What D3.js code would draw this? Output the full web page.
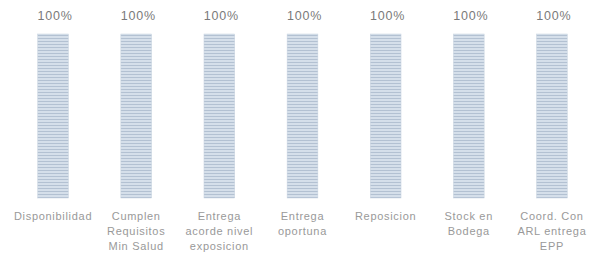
<!DOCTYPE html>
<html>
<head>
<meta charset="utf-8">
<script src="https://cdn.jsdelivr.net/npm/d3@7"></script>
<style>
  body { margin: 0; background: #fff; }
  text { font-family: "Liberation Sans", Arial, sans-serif; }
</style>
</head>
<body>
<div class="chart"></div>
<script>
// chart data
var categories = ["Disponibilidad", "Cumplen Requisitos Min Salud", "Entrega acorde nivel exposicion",
  "Entrega oportuna", "Reposicion", "Stock en Bodega", "Coord. Con ARL entrega EPP"];
var values = [1, 1, 1, 1, 1, 1, 1];
var valueLabels = ["100%", "100%", "100%", "100%", "100%", "100%", "100%"];
var categoryLines = [
  ["Disponibilidad"],
  ["Cumplen", "Requisitos", "Min Salud"],
  ["Entrega", "acorde nivel", "exposicion"],
  ["Entrega", "oportuna"],
  ["Reposicion"],
  ["Stock en", "Bodega"],
  ["Coord. Con", "ARL entrega", "EPP"]
];

var svgWidth = 589;
var svgHeight = 263;

var svg = d3.select(".chart")
  .append("svg")
  .attr("width", svgWidth)
  .attr("height", svgHeight);

// striped fill for the bars
var defs = svg.append("defs");
var pat = defs.append("pattern")
  .attr("id", "stripes")
  .attr("patternUnits", "userSpaceOnUse")
  .attr("width", 8)
  .attr("height", 3);
pat.append("rect")
  .attr("width", 8)
  .attr("height", 3)
  .attr("fill", "#d5dfea");
pat.append("rect")
  .attr("y", 2)
  .attr("width", 8)
  .attr("height", 1)
  .attr("fill", "#b3c1d2");

var x = d3.scaleBand()
  .domain(categories)
  .range([11.5, 593.5])
  .paddingInner(0.63)
  .paddingOuter(0.315);

var y = d3.scaleLinear()
  .domain([0, 1])
  .range([198, 34]);

var data = categories.map((c, i) => ({ cat: c, value: values[i], label: valueLabels[i], lines: categoryLines[i] }));

// bars
svg.selectAll(".bar")
  .data(data)
  .enter()
  .append("rect")
  .attr("class", "bar")
  .attr("x", d => x(d.cat))
  .attr("y", d => y(d.value))
  .attr("width", x.bandwidth())
  .attr("height", d => y(0) - y(d.value))
  .attr("fill", "url(#stripes)")
  .attr("stroke", "#c8d3e0")
  .attr("stroke-width", 0.5);

// value labels on top
svg.selectAll(".val")
  .data(data)
  .enter()
  .append("text")
  .attr("class", "val")
  .attr("x", d => x(d.cat) + x.bandwidth() / 2 + 2)
  .attr("y", d => y(d.value) - 14)
  .attr("text-anchor", "middle")
  .style("font-size", "12.5px")
  .style("letter-spacing", "0.8px")
  .style("fill", "#7a7a7a")
  .text(d => d.label);

// category labels
var catText = svg.selectAll(".cat")
  .data(data)
  .enter()
  .append("text")
  .attr("class", "cat")
  .attr("x", d => x(d.cat) + x.bandwidth() / 2)
  .attr("y", y(0) + 22)
  .attr("text-anchor", "middle")
  .style("font-size", "11px")
  .style("letter-spacing", "0.7px")
  .style("fill", "#999999");

catText.selectAll("tspan")
  .data(d => d.lines.map(l => ({ line: l, cx: x(d.cat) + x.bandwidth() / 2 })))
  .enter()
  .append("tspan")
  .attr("x", d => d.cx)
  .attr("dy", (d, i) => i === 0 ? 0 : 15)
  .text(d => d.line);
</script>
</body>
</html>
